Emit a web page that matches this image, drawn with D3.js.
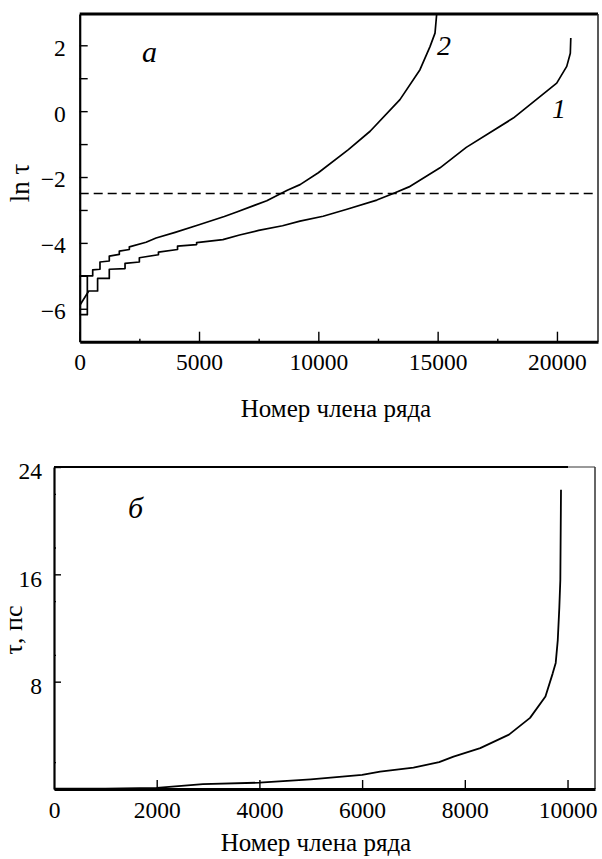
<!DOCTYPE html>
<html><head><meta charset="utf-8">
<script src="https://cdn.jsdelivr.net/npm/d3@7"></script>
<style>
body{margin:0;background:#fff;}
svg{display:block;}
svg text{font-family:Times, Tinos, Liberation Serif, serif;}
</style></head>
<body>
<svg id="c" width="602" height="859"></svg>
<script>
// ---- Panel a data (x = member number, y = ln tau) ----
const curve1X = [0,380,380,750,750,1240,1240,1900,1900,2500,2500,3300,3300,4100,4100,4900,4900,6000,6700,7500,8500,9230,10200,11200,12450,13140,13800,15100,16200,18170,19990,20410,20560,20580];
const curve1Y = [-5.9,-5.46,-5.46,-5.46,-5.08,-5.08,-4.8,-4.78,-4.62,-4.58,-4.45,-4.36,-4.28,-4.2,-4.1,-4.05,-3.99,-3.9,-3.76,-3.62,-3.48,-3.34,-3.19,-2.98,-2.7,-2.5,-2.3,-1.72,-1.1,-0.21,0.85,1.36,1.76,2.22];
const curve2X = [320,320,0,0,545,545,850,850,1240,1240,1660,1660,2080,2080,2780,3200,4000,5000,6060,6580,7840,8700,9235,10000,11260,12170,13420,14260,14680,14890,14960];
const curve2Y = [-5.0,-6.18,-6.18,-5.0,-5.0,-4.82,-4.8,-4.58,-4.55,-4.4,-4.35,-4.25,-4.2,-4.12,-3.98,-3.85,-3.68,-3.45,-3.2,-3.06,-2.72,-2.4,-2.23,-1.87,-1.17,-0.61,0.35,1.26,1.96,2.37,2.95];
const thresholdA = -2.5;
const xTicksA = [0,5000,10000,15000,20000];
const xMinorA = [2500,7500,12500,17500];
const yTicksA = [-6,-4,-2,0,2];
const yMinorA = [-5,-3,-1,1];

// ---- Panel b data (x = member number, y = tau, ps) ----
const bX = [0,1000,2000,2900,4000,5000,6000,6350,7000,7500,7780,8300,8860,9270,9570,9710,9770,9810,9840,9860,9873];
const bY = [0.02,0.03,0.08,0.37,0.47,0.72,1.05,1.29,1.6,2.0,2.41,3.05,4.05,5.3,6.9,8.6,9.4,11.1,13.5,15.6,22.3];
const xTicksB = [0,2000,4000,6000,8000,10000];
const yTicksB = [8,16,24];
const yMinorB = [2,10,14,18,22];

const FONT = "Times, Tinos, Liberation Serif, serif";
const TICK_FS = 23.5, TITLE_FS = 25;
const svg = d3.select("#c");
const fmt = d3.format("d");

// ================= Panel a =================
const xa = d3.scaleLinear().domain([0,21720]).range([79.7,598]);
const ya = d3.scaleLinear().domain([-7,2.95]).range([341.7,14]);
const ga = svg.append("g");
ga.append("clipPath").attr("id","clipA").append("rect")
  .attr("x",xa.range()[0]).attr("y",ya.range()[1]).attr("width",xa.range()[1]-xa.range()[0]).attr("height",ya.range()[0]-ya.range()[1]);

ga.append("line").attr("x1",xa(0)).attr("x2",xa.range()[1]-2).attr("y1",ya(thresholdA)).attr("y2",ya(thresholdA))
  .attr("stroke","#000").attr("stroke-width",1.6).attr("stroke-dasharray","9,5");

const lineA = d3.line().x(d=>xa(d[0])).y(d=>ya(d[1]));
[[curve1X,curve1Y],[curve2X,curve2Y]].forEach(([X,Y])=>{
  ga.append("path").datum(X.map((x,i)=>[x,Y[i]])).attr("d",lineA)
    .attr("fill","none").attr("stroke","#000").attr("stroke-width",1.7).attr("stroke-linejoin","round")
    .attr("clip-path","url(#clipA)");
});

ga.append("line").attr("x1",xa.range()[0]).attr("x2",xa.range()[1]).attr("y1",ya.range()[1]).attr("y2",ya.range()[1]).attr("stroke","#000").attr("stroke-width",3);
ga.append("line").attr("x1",xa.range()[1]).attr("x2",xa.range()[1]).attr("y1",ya.range()[1]).attr("y2",ya.range()[0]).attr("stroke","#222").attr("stroke-width",1.5);

const gxa = ga.append("g").attr("transform",`translate(0,${ya.range()[0]})`)
  .call(d3.axisBottom(xa).tickValues(xTicksA).tickFormat(fmt).tickSizeInner(-10).tickSizeOuter(0).tickPadding(12));
ga.append("g").attr("transform",`translate(0,${ya.range()[0]})`)
  .call(d3.axisBottom(xa).tickValues(xMinorA).tickFormat("").tickSizeInner(-3).tickSizeOuter(0))
  .select(".domain").remove();
const gya = ga.append("g").attr("transform",`translate(${xa.range()[0]},0)`)
  .call(d3.axisLeft(ya).tickValues(yTicksA).tickFormat(fmt).tickSizeInner(-8).tickSizeOuter(0).tickPadding(14));
ga.append("g").attr("transform",`translate(${xa.range()[0]},0)`)
  .call(d3.axisLeft(ya).tickValues(yMinorA).tickFormat("").tickSizeInner(-8).tickSizeOuter(0))
  .select(".domain").remove();
gxa.select(".domain").attr("stroke-width",3);
gya.select(".domain").attr("stroke-width",2.2);

ga.append("text").attr("x",142).attr("y",62).attr("font-style","italic").attr("font-size",30).text("а");
ga.append("text").attr("x",437).attr("y",55).attr("font-style","italic").attr("font-size",28).text("2");
ga.append("text").attr("x",552).attr("y",118).attr("font-style","italic").attr("font-size",28).text("1");
ga.append("text").attr("transform","translate(29,183) rotate(-90)").attr("text-anchor","middle").attr("font-size",27).text("ln τ");
ga.append("text").attr("x",336).attr("y",417).attr("text-anchor","middle").attr("font-size",TITLE_FS).text("Номер члена ряда");

// ================= Panel b =================
const xb = d3.scaleLinear().domain([0,10535]).range([54,595]);
const yb = d3.scaleLinear().domain([0,24]).range([789,467]);
const gb = svg.append("g");
const lineB = d3.line().x(d=>xb(d[0])).y(d=>yb(d[1]));
gb.append("path").datum(bX.map((x,i)=>[x,bY[i]])).attr("d",lineB)
  .attr("fill","none").attr("stroke","#000").attr("stroke-width",1.8).attr("stroke-linejoin","round");

gb.append("line").attr("x1",54).attr("x2",568).attr("y1",yb(24)).attr("y2",yb(24)).attr("stroke","#000").attr("stroke-width",2.2);
gb.append("line").attr("x1",568).attr("x2",595).attr("y1",yb(24)).attr("y2",yb(24)).attr("stroke","#555").attr("stroke-width",1.2);
gb.append("line").attr("x1",595).attr("x2",595).attr("y1",yb(24)).attr("y2",yb(0)).attr("stroke","#333").attr("stroke-width",1.5);

const gxb = gb.append("g").attr("transform",`translate(0,${yb(0)})`)
  .call(d3.axisBottom(xb).tickValues(xTicksB).tickFormat(fmt).tickSizeInner(-9).tickSizeOuter(0).tickPadding(12));
gxb.selectAll(".tick").filter(d=>d===0).select("line").remove();
gxb.select(".domain").attr("stroke-width",2.8);
const gyb = gb.append("g").attr("transform",`translate(${xb(0)},0)`)
  .call(d3.axisLeft(yb).tickValues(yTicksB).tickFormat(fmt).tickSizeInner(-7).tickSizeOuter(0).tickPadding(12));
gyb.select(".domain").attr("stroke-width",2.2);
gb.append("g").attr("transform",`translate(${xb(0)},0)`)
  .call(d3.axisLeft(yb).tickValues(yMinorB).tickFormat("").tickSizeInner(-2).tickSizeOuter(0))
  .select(".domain").remove();

gb.append("text").attr("x",128).attr("y",518).attr("font-style","italic").attr("font-size",30).text("б");
gb.append("text").attr("transform","translate(22,630) rotate(-90)").attr("text-anchor","middle").attr("font-size",26).text("τ, пс");
gb.append("text").attr("x",316).attr("y",851).attr("text-anchor","middle").attr("font-size",TITLE_FS).text("Номер члена ряда");

svg.selectAll(".tick text").attr("font-size",TICK_FS).attr("fill","#000");
svg.selectAll("text").style("font-family",FONT);
gya.selectAll(".tick text").attr("dy","0.42em");
gyb.selectAll(".tick text").attr("dy","0.5em");
svg.selectAll(".tick line").attr("stroke","#000").attr("stroke-width",1.4);
</script>
</body></html>
